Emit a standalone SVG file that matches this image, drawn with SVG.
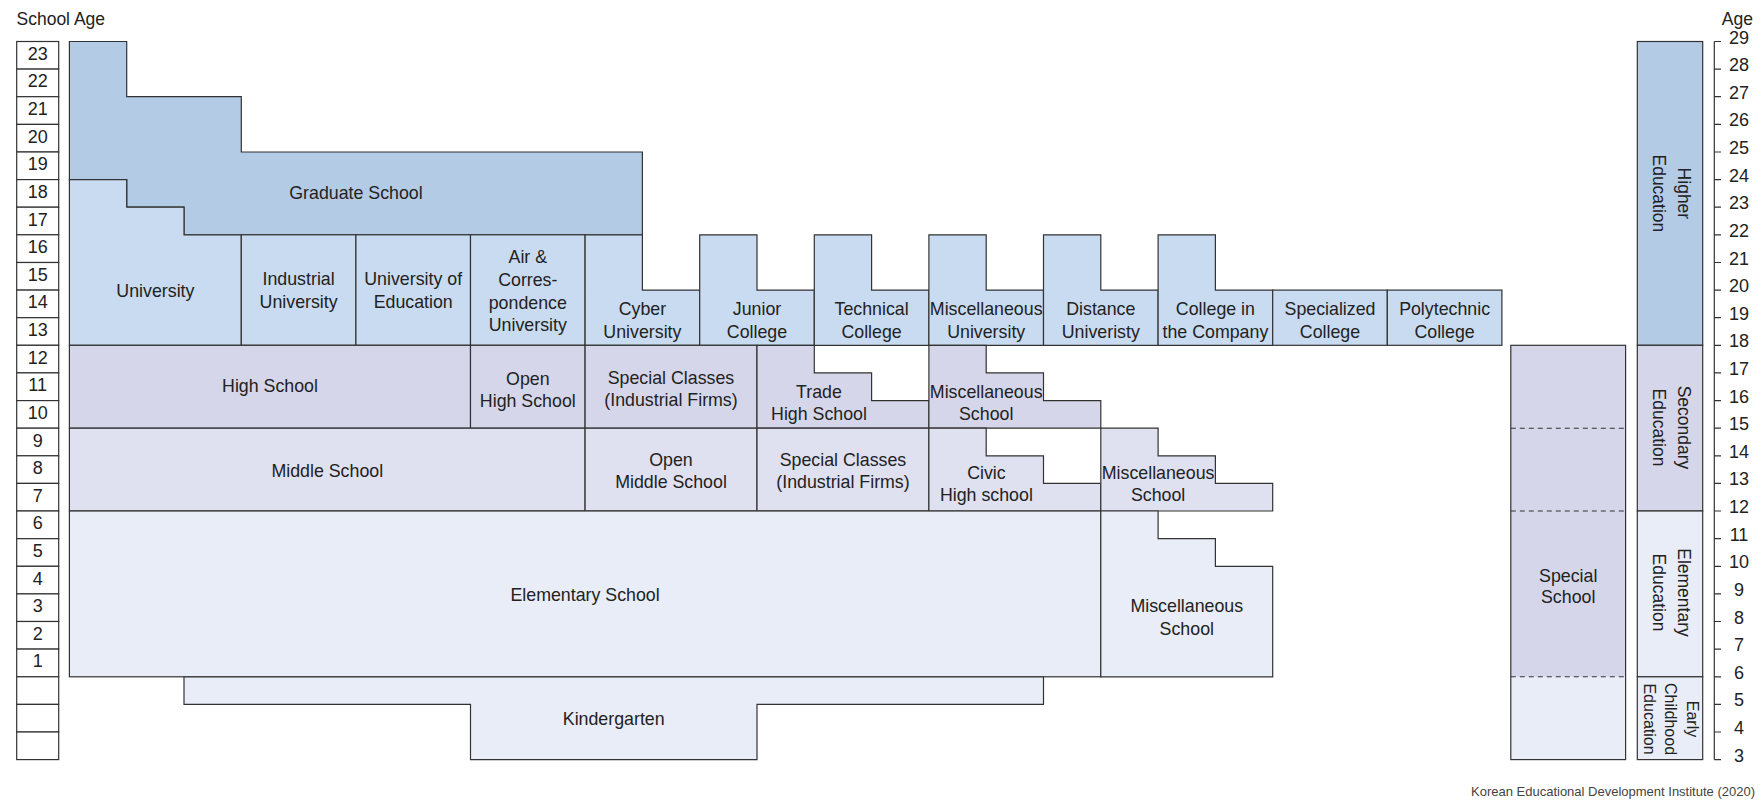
<svg xmlns="http://www.w3.org/2000/svg" width="1762" height="800" viewBox="0 0 1762 800">
<style>
text{font-family:"Liberation Sans",Arial,sans-serif;fill:#222}
.l{font-size:17.8px;text-anchor:middle}
.v{font-size:17.5px;text-anchor:middle}
.n{font-size:18px;text-anchor:middle}
.s{stroke:#333;stroke-width:1.2}
.g{fill:#b4cbe6}
.u{fill:#c9dbf0}
.h{fill:#d6d6ea}
.m{fill:#dfe0f0}
.e{fill:#e9edf7}
.w{fill:#fff}
.d{stroke:#333;stroke-width:1.1;stroke-dasharray:5 4;fill:none}
</style>

<text x="16.5" y="24.5" style="font-size:17.5px">School Age</text>
<text x="1753" y="25" style="font-size:17.5px;text-anchor:end">Age</text>

<g id="school-age-scale">
<rect class="w s" x="16.7" y="41.5" width="42" height="27.6"/>
<rect class="w s" x="16.7" y="69.1" width="42" height="27.6"/>
<rect class="w s" x="16.7" y="96.7" width="42" height="27.7"/>
<rect class="w s" x="16.7" y="124.4" width="42" height="27.6"/>
<rect class="w s" x="16.7" y="152" width="42" height="27.6"/>
<rect class="w s" x="16.7" y="179.6" width="42" height="27.6"/>
<rect class="w s" x="16.7" y="207.2" width="42" height="27.6"/>
<rect class="w s" x="16.7" y="234.8" width="42" height="27.7"/>
<rect class="w s" x="16.7" y="262.5" width="42" height="27.6"/>
<rect class="w s" x="16.7" y="290.1" width="42" height="27.6"/>
<rect class="w s" x="16.7" y="317.7" width="42" height="27.6"/>
<rect class="w s" x="16.7" y="345.3" width="42" height="27.6"/>
<rect class="w s" x="16.7" y="372.9" width="42" height="27.7"/>
<rect class="w s" x="16.7" y="400.6" width="42" height="27.6"/>
<rect class="w s" x="16.7" y="428.2" width="42" height="27.6"/>
<rect class="w s" x="16.7" y="455.8" width="42" height="27.6"/>
<rect class="w s" x="16.7" y="483.4" width="42" height="27.6"/>
<rect class="w s" x="16.7" y="511" width="42" height="27.7"/>
<rect class="w s" x="16.7" y="538.7" width="42" height="27.6"/>
<rect class="w s" x="16.7" y="566.3" width="42" height="27.6"/>
<rect class="w s" x="16.7" y="593.9" width="42" height="27.6"/>
<rect class="w s" x="16.7" y="621.5" width="42" height="27.6"/>
<rect class="w s" x="16.7" y="649.1" width="42" height="27.7"/>
<rect class="w s" x="16.7" y="676.8" width="42" height="27.6"/>
<rect class="w s" x="16.7" y="704.4" width="42" height="27.6"/>
<rect class="w s" x="16.7" y="732" width="42" height="27.6"/>
<text class="n" x="37.7" y="59.8">23</text>
<text class="n" x="37.7" y="87.4">22</text>
<text class="n" x="37.7" y="115">21</text>
<text class="n" x="37.7" y="142.7">20</text>
<text class="n" x="37.7" y="170.3">19</text>
<text class="n" x="37.7" y="197.9">18</text>
<text class="n" x="37.7" y="225.5">17</text>
<text class="n" x="37.7" y="253.1">16</text>
<text class="n" x="37.7" y="280.8">15</text>
<text class="n" x="37.7" y="308.4">14</text>
<text class="n" x="37.7" y="336">13</text>
<text class="n" x="37.7" y="363.6">12</text>
<text class="n" x="37.7" y="391.2">11</text>
<text class="n" x="37.7" y="418.9">10</text>
<text class="n" x="37.7" y="446.5">9</text>
<text class="n" x="37.7" y="474.1">8</text>
<text class="n" x="37.7" y="501.7">7</text>
<text class="n" x="37.7" y="529.3">6</text>
<text class="n" x="37.7" y="557">5</text>
<text class="n" x="37.7" y="584.6">4</text>
<text class="n" x="37.7" y="612.2">3</text>
<text class="n" x="37.7" y="639.8">2</text>
<text class="n" x="37.7" y="667.4">1</text>
</g>

<g id="graduate-school"><polygon class="g s" points="69.4,41.5 126.7,41.5 126.7,96.7 241.3,96.7 241.3,152 642.4,152 642.4,234.8 184,234.8 184,207.2 126.7,207.2 126.7,179.6 69.4,179.6"/><text class="l" x="356" y="199.3">Graduate School</text></g>
<g id="university"><polygon class="u s" points="69.4,179.6 126.7,179.6 126.7,207.2 184,207.2 184,234.8 241.3,234.8 241.3,345.3 69.4,345.3"/><text class="l" x="155.4" y="296.5">University</text></g>
<g id="industrial-university"><rect class="u s" x="241.3" y="234.8" width="114.6" height="110.5"/><text class="l" x="298.6" y="285">Industrial</text><text class="l" x="298.6" y="308.3">University</text></g>
<g id="university-of-education"><rect class="u s" x="355.9" y="234.8" width="114.6" height="110.5"/><text class="l" x="413.2" y="285">University of</text><text class="l" x="413.2" y="308.3">Education</text></g>
<g id="air-correspondence-university"><rect class="u s" x="470.5" y="234.8" width="114.6" height="110.5"/><text class="l" x="527.8" y="263.3">Air &amp;</text><text class="l" x="527.8" y="285.9">Corres-</text><text class="l" x="527.8" y="308.5">pondence</text><text class="l" x="527.8" y="331.1">University</text></g>
<g id="cyber-university"><polygon class="u s" points="585.1,234.8 642.4,234.8 642.4,290.1 699.7,290.1 699.7,345.3 585.1,345.3"/><text class="l" x="642.4" y="315">Cyber</text><text class="l" x="642.4" y="337.7">University</text></g>
<g id="junior-college"><polygon class="u s" points="699.7,234.8 757,234.8 757,290.1 814.3,290.1 814.3,345.3 699.7,345.3"/><text class="l" x="757" y="315">Junior</text><text class="l" x="757" y="337.7">College</text></g>
<g id="technical-college"><polygon class="u s" points="814.3,234.8 871.6,234.8 871.6,290.1 928.9,290.1 928.9,345.3 814.3,345.3"/><text class="l" x="871.6" y="315">Technical</text><text class="l" x="871.6" y="337.7">College</text></g>
<g id="miscellaneous-university"><polygon class="u s" points="928.9,234.8 986.2,234.8 986.2,290.1 1043.5,290.1 1043.5,345.3 928.9,345.3"/><text class="l" x="986.2" y="315">Miscellaneous</text><text class="l" x="986.2" y="337.7">University</text></g>
<g id="distance-university"><polygon class="u s" points="1043.5,234.8 1100.8,234.8 1100.8,290.1 1158.1,290.1 1158.1,345.3 1043.5,345.3"/><text class="l" x="1100.8" y="315">Distance</text><text class="l" x="1100.8" y="337.7">Univeristy</text></g>
<g id="college-in-the-company"><polygon class="u s" points="1158.1,234.8 1215.4,234.8 1215.4,290.1 1272.7,290.1 1272.7,345.3 1158.1,345.3"/><text class="l" x="1215.4" y="315">College in</text><text class="l" x="1215.4" y="337.7">the Company</text></g>
<g id="specialized-college"><rect class="u s" x="1272.7" y="290.1" width="114.6" height="55.2"/><text class="l" x="1330" y="315">Specialized</text><text class="l" x="1330" y="337.7">College</text></g>
<g id="polytechnic-college"><rect class="u s" x="1387.3" y="290.1" width="114.6" height="55.2"/><text class="l" x="1444.6" y="315">Polytechnic</text><text class="l" x="1444.6" y="337.7">College</text></g>

<g id="high-school"><rect class="h s" x="69.4" y="345.3" width="401.1" height="82.9"/><text class="l" x="270" y="392">High School</text></g>
<g id="open-high-school"><rect class="h s" x="470.5" y="345.3" width="114.6" height="82.9"/><text class="l" x="527.8" y="384.5">Open</text><text class="l" x="527.8" y="406.5">High School</text></g>
<g id="special-classes-high"><rect class="h s" x="585.1" y="345.3" width="171.9" height="82.9"/><text class="l" x="671" y="384">Special Classes</text><text class="l" x="671" y="405.5">(Industrial Firms)</text></g>
<g id="trade-high-school"><polygon class="h s" points="757,345.3 814.3,345.3 814.3,372.9 871.6,372.9 871.6,400.6 928.9,400.6 928.9,428.2 757,428.2"/><text class="l" x="819" y="397.5">Trade</text><text class="l" x="819" y="420">High School</text></g>
<g id="miscellaneous-school-high"><polygon class="h s" points="928.9,345.3 986.2,345.3 986.2,372.9 1043.5,372.9 1043.5,400.6 1100.8,400.6 1100.8,428.2 928.9,428.2"/><text class="l" x="986.2" y="397.5">Miscellaneous</text><text class="l" x="986.2" y="420">School</text></g>

<g id="middle-school"><rect class="m s" x="69.4" y="428.2" width="515.7" height="82.8"/><text class="l" x="327.3" y="476.5">Middle School</text></g>
<g id="open-middle-school"><rect class="m s" x="585.1" y="428.2" width="171.9" height="82.8"/><text class="l" x="671" y="465.5">Open</text><text class="l" x="671" y="487.5">Middle School</text></g>
<g id="special-classes-middle"><rect class="m s" x="757" y="428.2" width="171.9" height="82.8"/><text class="l" x="843" y="465.5">Special Classes</text><text class="l" x="843" y="487.5">(Industrial Firms)</text></g>
<g id="civic-high-school"><polygon class="m s" points="928.9,428.2 986.2,428.2 986.2,455.8 1043.5,455.8 1043.5,483.4 1100.8,483.4 1100.8,511 928.9,511"/><text class="l" x="986.4" y="478.5">Civic</text><text class="l" x="986.4" y="501">High school</text></g>
<g id="miscellaneous-school-middle"><polygon class="m s" points="1100.8,428.2 1158.1,428.2 1158.1,455.8 1215.4,455.8 1215.4,483.4 1272.7,483.4 1272.7,511 1100.8,511"/><text class="l" x="1158.1" y="478.5">Miscellaneous</text><text class="l" x="1158.1" y="501">School</text></g>

<g id="elementary-school"><rect class="e s" x="69.4" y="511" width="1031.4" height="165.8"/><text class="l" x="585.1" y="600.5">Elementary School</text></g>
<g id="miscellaneous-school-elementary"><polygon class="e s" points="1100.8,511 1158.1,511 1158.1,538.7 1215.4,538.7 1215.4,566.3 1272.7,566.3 1272.7,676.8 1100.8,676.8"/><text class="l" x="1186.8" y="612.3">Miscellaneous</text><text class="l" x="1186.8" y="635">School</text></g>

<g id="kindergarten"><polygon class="e s" points="184,676.8 1043.5,676.8 1043.5,704.4 757,704.4 757,759.6 470.5,759.6 470.5,704.4 184,704.4"/><text class="l" x="613.7" y="725">Kindergarten</text></g>

<g id="special-school">
<rect class="h" x="1510.8" y="345.3" width="114.8" height="331.5"/>
<rect class="e" x="1510.8" y="676.8" width="114.8" height="82.8"/>
<rect class="s" fill="none" x="1510.8" y="345.3" width="114.8" height="414.3"/>
<line class="d" x1="1510.8" y1="428.2" x2="1625.6" y2="428.2"/>
<line class="d" x1="1510.8" y1="511" x2="1625.6" y2="511"/>
<line class="d" x1="1510.8" y1="676.8" x2="1625.6" y2="676.8"/>
<text class="l" x="1568.2" y="581.5">Special</text><text class="l" x="1568.2" y="603">School</text>
</g>

<g id="higher-education"><rect class="g s" x="1637.3" y="41.5" width="65.4" height="303.8"/><text class="v" transform="translate(1670,193.4) rotate(90)"><tspan x="0" y="-7.5">Higher</tspan><tspan x="0" y="17">Education</tspan></text></g>
<g id="secondary-education"><rect class="h s" x="1637.3" y="345.3" width="65.4" height="165.7"/><text class="v" transform="translate(1670,427.5) rotate(90)"><tspan x="0" y="-7.5">Secondary</tspan><tspan x="0" y="17">Education</tspan></text></g>
<g id="elementary-education"><rect class="e s" x="1637.3" y="511" width="65.4" height="165.8"/><text class="v" transform="translate(1670,592.5) rotate(90)"><tspan x="0" y="-7.5">Elementary</tspan><tspan x="0" y="17">Education</tspan></text></g>
<g id="early-childhood-education"><rect class="e s" x="1637.3" y="676.8" width="65.4" height="82.8"/><text style="font-size:16px;text-anchor:middle" transform="translate(1670,719) rotate(90)"><tspan x="0" y="-16.7">Early</tspan><tspan x="0" y="5">Childhood</tspan><tspan x="0" y="26.5">Education</tspan></text></g>

<g id="age-axis">
<path fill="none" stroke="#333" stroke-width="1.2" d="M1714.3,41.5V759.6M1714.3,41.5h6.7M1714.3,69.1h6.7M1714.3,96.7h6.7M1714.3,124.4h6.7M1714.3,152h6.7M1714.3,179.6h6.7M1714.3,207.2h6.7M1714.3,234.8h6.7M1714.3,262.5h6.7M1714.3,290.1h6.7M1714.3,317.7h6.7M1714.3,345.3h6.7M1714.3,372.9h6.7M1714.3,400.6h6.7M1714.3,428.2h6.7M1714.3,455.8h6.7M1714.3,483.4h6.7M1714.3,511h6.7M1714.3,538.7h6.7M1714.3,566.3h6.7M1714.3,593.9h6.7M1714.3,621.5h6.7M1714.3,649.1h6.7M1714.3,676.8h6.7M1714.3,704.4h6.7M1714.3,732h6.7M1714.3,759.6h6.7"/>
<text class="n" x="1739" y="43.5">29</text>
<text class="n" x="1739" y="71.1">28</text>
<text class="n" x="1739" y="98.7">27</text>
<text class="n" x="1739" y="126.4">26</text>
<text class="n" x="1739" y="154">25</text>
<text class="n" x="1739" y="181.6">24</text>
<text class="n" x="1739" y="209.2">23</text>
<text class="n" x="1739" y="236.8">22</text>
<text class="n" x="1739" y="264.5">21</text>
<text class="n" x="1739" y="292.1">20</text>
<text class="n" x="1739" y="319.7">19</text>
<text class="n" x="1739" y="347.3">18</text>
<text class="n" x="1739" y="374.9">17</text>
<text class="n" x="1739" y="402.6">16</text>
<text class="n" x="1739" y="430.2">15</text>
<text class="n" x="1739" y="457.8">14</text>
<text class="n" x="1739" y="485.4">13</text>
<text class="n" x="1739" y="513">12</text>
<text class="n" x="1739" y="540.7">11</text>
<text class="n" x="1739" y="568.3">10</text>
<text class="n" x="1739" y="595.9">9</text>
<text class="n" x="1739" y="623.5">8</text>
<text class="n" x="1739" y="651.1">7</text>
<text class="n" x="1739" y="678.8">6</text>
<text class="n" x="1739" y="706.4">5</text>
<text class="n" x="1739" y="734">4</text>
<text class="n" x="1739" y="761.6">3</text>
</g>

<g id="connectors"/>

<text x="1755" y="796" style="font-size:13px;text-anchor:end;fill:#444">Korean Educational Development Institute (2020)</text>
</svg>
